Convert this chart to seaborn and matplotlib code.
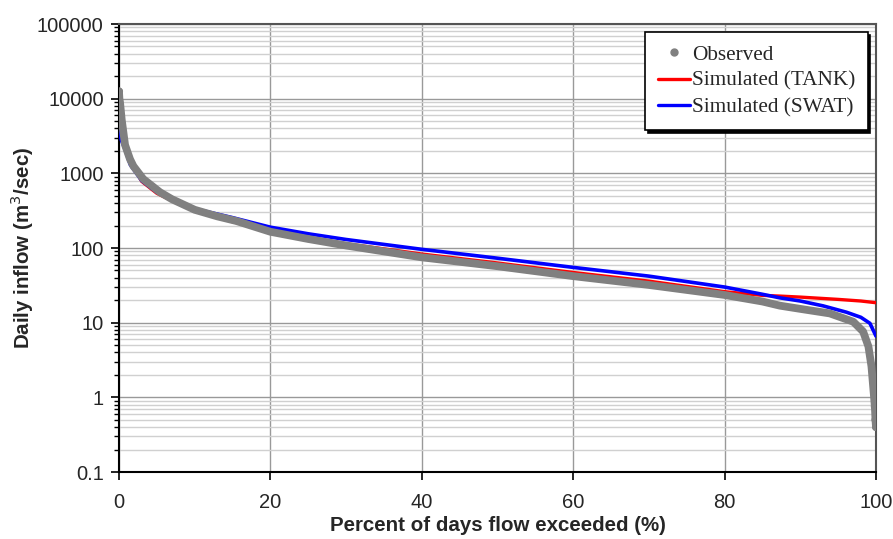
import numpy as np
import pandas as pd
import matplotlib
matplotlib.use("Agg")
import matplotlib.pyplot as plt
from matplotlib.lines import Line2D
from matplotlib.ticker import LogLocator, FuncFormatter, FixedLocator
import seaborn as sns

# ---- data ----
obs_pct = [0.0, 0.05, 0.13, 0.36, 0.8, 1.45, 1.9, 3.2, 5.4, 7, 10, 13, 15.5, 20, 25, 30, 40, 50, 60, 70,
           80, 85, 87.3, 90, 93.9, 97, 98.3, 99.0, 99.4, 99.7, 99.85, 99.93, 100]
obs_val = [12500, 10000, 9000, 5200, 2400, 1550, 1250, 840, 560, 450, 325, 265, 230, 165, 132, 108, 75, 57, 42, 32,
           23.5, 19.2, 16.9, 15.3, 13.3, 10.3, 7.6, 4.8, 2.6, 1.14, 0.75, 0.5, 0.4]

tank_pct = [0, 0.3, 0.8, 1.5, 3, 5, 7, 10, 15, 20, 25, 30, 40, 50, 60, 70, 80, 85, 87.3, 90, 95, 98, 100]
tank_val = [4500, 3100, 2200, 1450, 780, 540, 430, 315, 225, 172, 138, 114, 83, 63, 47, 36, 26, 23.2, 22.7, 22, 20.5, 19.5, 18.5]

swat_pct = [0, 0.3, 0.8, 1.5, 3, 5, 7, 10, 15, 20, 25, 30, 40, 50, 60, 70, 80, 85, 87.3, 90, 93, 96.1, 98, 99.2, 100]
swat_val = [3800, 2800, 2100, 1300, 800, 560, 450, 335, 255, 190, 155, 130, 96, 73, 55, 42, 30, 24, 21.5, 19.5, 16.8, 13.8, 11.8, 9.8, 6.6]

y_ticks = [0.1, 1, 10, 100, 1000, 10000, 100000]
x_ticks = [0, 20, 40, 60, 80, 100]
labels = ["Observed", "Simulated (TANK)", "Simulated (SWAT)"]

obs = pd.DataFrame({"pct": obs_pct, "val": obs_val})
tank = pd.DataFrame({"pct": tank_pct, "val": tank_val})
swat = pd.DataFrame({"pct": swat_pct, "val": swat_val})

sns.set_theme(style="white")
plt.rcParams["font.family"] = ["Liberation Sans", "DejaVu Sans"]

fig = plt.figure(figsize=(8.93, 5.39), dpi=100)
ax = fig.add_axes([119 / 893, 1 - 472 / 539, (876 - 119) / 893, (472 - 24) / 539])
ax.set_yscale("log")

sns.lineplot(data=tank, x="pct", y="val", ax=ax, color="#ff0000", linewidth=2.4, zorder=3, sort=False)
sns.lineplot(data=swat, x="pct", y="val", ax=ax, color="#0000ff", linewidth=2.6, zorder=4, sort=False)
sns.lineplot(data=obs, x="pct", y="val", ax=ax, color="#808080", linewidth=5.6, zorder=5, sort=False,
             solid_capstyle="round", solid_joinstyle="round")
sns.scatterplot(data=obs.iloc[[0, -3, -2, -1]], x="pct", y="val", ax=ax, color="#808080", s=34,
                edgecolor="none", zorder=6)

ax.set_xlim(0, 100)
ax.set_ylim(0.1, 100000)
ax.xaxis.set_major_locator(FixedLocator(x_ticks))
ax.yaxis.set_major_locator(FixedLocator(y_ticks))
ax.yaxis.set_minor_locator(LogLocator(base=10, subs=np.arange(2, 10), numticks=20))
ax.yaxis.set_major_formatter(FuncFormatter(lambda v, p: "{:g}".format(v)))
ax.xaxis.set_major_formatter(FuncFormatter(lambda v, p: "{:g}".format(v)))

ax.grid(True, which="major", axis="y", color="#999999", linewidth=1.0, zorder=0)
ax.grid(True, which="minor", axis="y", color="#d0d0d0", linewidth=1.0, zorder=0)
ax.grid(True, which="major", axis="x", color="#999999", linewidth=1.0, zorder=0)
ax.set_axisbelow(True)

for s in ["left", "bottom"]:
    ax.spines[s].set_color("black")
    ax.spines[s].set_linewidth(1.5)
for s in ["top", "right"]:
    ax.spines[s].set_color("#555555")
    ax.spines[s].set_linewidth(1.5)

ax.tick_params(axis="both", which="major", direction="out", length=6, width=1.2, color="black",
               labelsize=14.5, pad=5, bottom=True, left=True)
ax.tick_params(axis="y", which="minor", direction="out", length=3.5, width=1.0, color="black", left=True)
ax.tick_params(axis="x", pad=9)

ax.set_xlabel("Percent of days flow exceeded (%)", fontsize=14.8, fontweight="bold", labelpad=3)
ax.set_ylabel("Daily inflow (m$^3$/sec)", fontsize=14.8, fontweight="bold", labelpad=1)

handles = [
    Line2D([], [], color="#808080", marker="o", markersize=5, linestyle="none"),
    Line2D([], [], color="#ff0000", linewidth=2.4),
    Line2D([], [], color="#0000ff", linewidth=2.4),
]
leg = ax.legend(handles, labels, loc="upper right", bbox_to_anchor=(0.989, 0.982), borderaxespad=0,
                frameon=True, fancybox=False, shadow={"color": "black", "alpha": 1.0},
                prop={"family": "Liberation Serif", "size": 15.3}, handlelength=1.5, handletextpad=0.1,
                borderpad=0.6, labelspacing=0.3)
leg.get_frame().set_edgecolor("black")
leg.get_frame().set_linewidth(1.2)
leg.set_zorder(10)

fig.savefig("out.png", dpi=100)
